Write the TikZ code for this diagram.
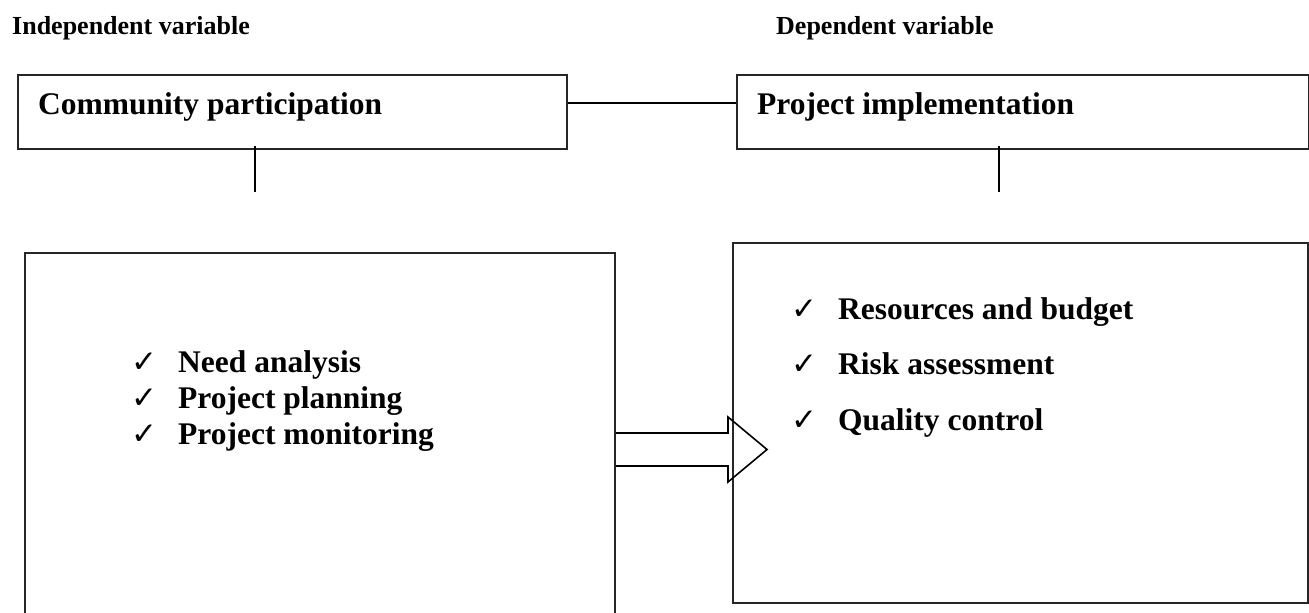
\documentclass[tikz,border=0pt]{standalone}
\usepackage{fontspec}
\setmainfont{Liberation Serif}
\newfontfamily\chkfont{DejaVu Sans}
\tikzset{
  px/.style={x=1pt,y=-1pt},
  frame/.style={draw=black!85, line width=1.8pt, inner sep=0pt, anchor=north west},
  link/.style={draw=black, line width=1.6pt},
  head/.style={font=\fontsize{26}{30}\bfseries\selectfont, anchor=base west, inner sep=0pt},
  title/.style={font=\fontsize{31.5}{36}\bfseries\selectfont, anchor=base west, inner sep=0pt},
  item/.style={font=\fontsize{31.5}{36}\bfseries\selectfont, anchor=base west, inner sep=0pt},
  tick/.style={font=\chkfont\fontsize{31}{34}\selectfont, anchor=base west, inner sep=0pt},
}
\begin{document}
\begin{tikzpicture}[px]
\useasboundingbox (0,0) rectangle (1309,613);
\fill[white] (0,0) rectangle (1309,613);
\clip (0,0) rectangle (1309,613);

% headers
\node[head] (hi) at (12,34) {Independent variable};
\node[head] (hd) at (776,34) {Dependent variable};

% top boxes
\node[frame, minimum width=549pt, minimum height=74pt] (tl) at (17,74) {};
\node[frame, minimum width=572pt, minimum height=74pt] (tr) at (736,74) {};
\node[title] (tlt) at (38,114) {Community participation};
\node[title] (trt) at (757,114) {Project implementation};
\draw[link] ([yshift=-29pt]tl.north east) -- ([yshift=-29pt]tr.north west);

% stubs
\coordinate (sl) at (255,192);
\coordinate (sr) at (999,192);
\draw[link] ([yshift=4pt]tl.south -| sl) -- (sl);
\draw[link] ([yshift=4pt]tr.south -| sr) -- (sr);

% big boxes
\node[frame, minimum width=590pt, minimum height=420pt] (bl) at (24,252) {};
\node[frame, minimum width=575pt, minimum height=360pt] (br) at (732,242) {};

% left list
\node[tick] (c1) at (131,372) {✓};
\node[tick] (c2) at (131,408) {✓};
\node[tick] (c3) at (131,444) {✓};
\node[item] (l1) at (178,372) {Need analysis};
\node[item] (l2) at (178,408) {Project planning};
\node[item] (l3) at (178,444) {Project monitoring};

% right list
\node[tick] (d1) at (791,319) {✓};
\node[tick] (d2) at (791,374) {✓};
\node[tick] (d3) at (791,430) {✓};
\node[item] (r1) at (838,319) {Resources and budget};
\node[item] (r2) at (838,374) {Risk assessment};
\node[item] (r3) at (838,430) {Quality control};

% block arrow
\coordinate (ah) at (728,433);
\draw[link, line join=miter]
  (bl.east |- ah) -- (ah) -- (728,417) -- (767,449.5) -- (728,482)
  -- (728,466) -- (bl.east |- 0,466);
\end{tikzpicture}
\end{document}
